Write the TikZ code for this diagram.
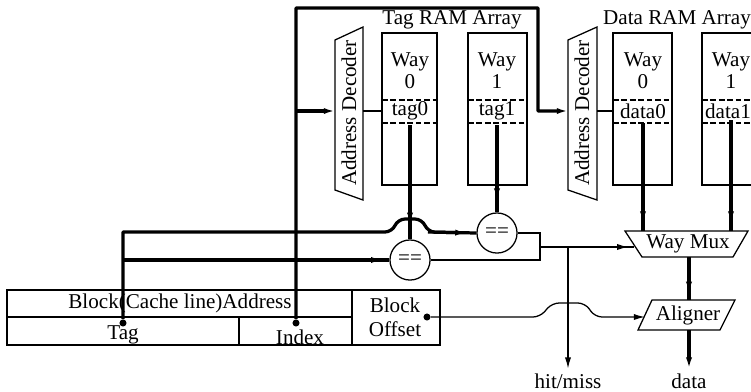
\documentclass[tikz,border=0pt]{standalone}
\usepackage{fontspec}
\setmainfont{Liberation Serif}
\usetikzlibrary{arrows.meta,positioning}

\tikzset{
  bus/.style={line width=2.3pt,rounded corners=0.5pt},
  wire/.style={line width=0.9pt},
  cell/.style={draw,line width=0.9pt},
  sep/.style={dash pattern=on 4pt off 2pt,line width=0.9pt},
  tip/.style={-{Latex[length=8pt,width=4.4pt]}},
  pin/.style={circle,fill,inner sep=0pt,minimum size=5pt},
  cmp/.style={circle,draw,line width=0.9pt,minimum size=28.5pt,inner sep=0pt},
  waytext/.style={align=center,font=\fontsize{15}{15.6}\selectfont}
}

\begin{document}
\begin{tikzpicture}[x=0.025cm,y=-0.025cm,font=\fontsize{15}{17}\selectfont]
    \useasboundingbox (0,0) rectangle (751,391);

    % address fields
    \draw[cell] (7,290) rectangle (440,345);
    \draw[wire] (7,317) -- (352,317) (352,290) -- (352,345) (239,317) -- (239,345);
    \node (blockaddr) at (180,303) {Block(Cache line)Address};
    \node (tagfield) at (123,335) {Tag};
    \node (indexfield) at (300,337) {Index};
    \node[align=center] (offsetfield) at (395,317) {Block\\Offset};
    \node[pin] (tagpin) at (123,323) {};
    \node[pin] (indexpin) at (296,323) {};
    \node[pin] (offsetpin) at (427,317) {};

    % tag RAM
    \node (tagarray) at (452,20) {Tag RAM Array};
    \draw[cell] (335,40) -- (363,27) -- (363,200) -- (335,190) -- cycle;
    \node[rotate=90] (tagdec) at (349,113) {Address Decoder};
    \draw[cell] (382,33) rectangle (437,185);
    \draw[sep] (382,100) -- (437,100) (382,123) -- (437,123);
    \draw[cell] (468,33) rectangle (527,185);
    \draw[sep] (468,100) -- (527,100) (468,123) -- (527,123);
    \node[waytext] (tagway0) at (410,71) {Way\\0};
    \node[waytext] (tagway1) at (497,71) {Way\\1};
    \node (tag0) at (410,111) {tag0};
    \node (tag1) at (497,111) {tag1};

    % data RAM
    \node (dataarray) at (677,20) {Data RAM Array};
    \draw[cell] (568,40) -- (597,27) -- (597,200) -- (568,190) -- cycle;
    \node[rotate=90] (datadec) at (582,113) {Address Decoder};
    \draw[cell] (613,33) rectangle (672,185);
    \draw[sep] (613,100) -- (672,100) (613,123) -- (672,123);
    \draw[cell] (702,33) rectangle (761,185);
    \draw[sep] (702,100) -- (761,100) (702,123) -- (761,123);
    \node[waytext] (dataway0) at (643,71) {Way\\0};
    \node[waytext] (dataway1) at (731,71) {Way\\1};
    \node (data0) at (643,111) {data0};
    \node[inner sep=1pt] (data1) at (728,111) {data1};

    % compare, mux, aligner
    \node[cmp] (cmpA) at (497,233) {==};
    \node[cmp] (cmpB) at (410,260) {==};
    \draw[cell] (625,231) -- (748,231) -- (733,257) -- (642,257) -- cycle;
    \node (waymux) at (688,244) {Way Mux};
    \draw[cell] (652,300) -- (735,300) -- (720,330) -- (638,330) -- cycle;
    \node (aligner) at (688,315) {Aligner};
    \node (hitmiss) at (568,381) {hit/miss};
    \node (dataout) at (689,381) {data};

    \coordinate (tagdecin) at (335,111);
    \coordinate (tagdecout) at (363,111);
    \coordinate (datadecin) at (568,111);
    \coordinate (datadecout) at (597,111);
    \coordinate (tagsplit) at (123,260);
    \coordinate (indexsplit) at (296,111);
    \coordinate (cmpjoin) at (540,247);
    \coordinate (hitsplit) at (568,247);
    \coordinate (muxin) at (634,247);
    \coordinate (muxin0) at (643,231);
    \coordinate (muxin1) at (731,231);
    \coordinate (muxout) at (689,257);
    \coordinate (alignerin) at (689,300);
    \coordinate (alignerout) at (689,330);
    \coordinate (offsetin) at (645,317);

    % index path
    \draw[bus,tip] (indexpin) -- (296,8) -- (538,8) -- (538,111) -- (datadecin);
    \draw[bus,tip] (indexsplit) -- (tagdecin);
    \draw[wire] (tagdecout) -- (382,111);
    \draw[wire] (datadecout) -- (613,111);

    % tag compare
    \draw[bus] (tag0.south) -- (cmpB.north);
    \draw[bus,tip,shorten >=11pt] (tag0.south) -- (cmpB.north);
    \draw[bus] (tag1.south) -- (cmpA.north);
    \draw[bus,tip,shorten >=9pt] (tag1.south) -- (cmpA.north);
    \draw[bus] (tagpin) -- (123,232) -- (380,232) [rounded corners=5pt] -- (392,232) -- (398,219) -- (422,219) -- (428,232) -- (cmpA.west);
    \draw[bus,tip,shorten >=7pt] (428,232) -- (cmpA.west);
    \draw[bus] (tagsplit) -- (cmpB.west);
    \draw[bus,tip,shorten >=5pt] (tagsplit) -- (cmpB.west);
    \draw[wire] (cmpA.east) -- (540,233) -- (540,260) -- (cmpB.east);
    \draw[wire] (cmpjoin) -- (muxin);
    \draw[wire,tip,shorten >=4pt] (cmpjoin) -- (muxin);
    \draw[wire,tip] (hitsplit) -- (hitmiss.north);

    % data path
    \draw[bus] (data0.south) -- (muxin0);
    \draw[bus,tip,shorten >=6pt] (data0.south) -- (muxin0);
    \draw[bus] (data1.south -| muxin1) -- (muxin1);
    \draw[bus,tip,shorten >=6pt] (data1.south -| muxin1) -- (muxin1);
    \draw[bus] (muxout) -- (alignerin);
    \draw[bus,tip,shorten >=5pt] (muxout) -- (alignerin);
    \draw[bus,tip] (alignerout) -- (dataout.north);
    \draw[wire,tip,rounded corners=5pt] (offsetpin) -- (540,317) -- (552,303) -- (585,303) -- (595,317) -- (offsetin);
\end{tikzpicture}
\end{document}
